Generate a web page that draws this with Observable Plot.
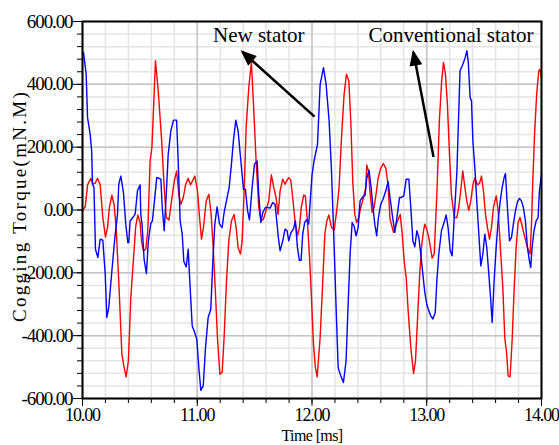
<!DOCTYPE html>
<html>
<head>
<meta charset="utf-8">
<script src="https://cdn.jsdelivr.net/npm/d3@7"></script>
<script src="https://cdn.jsdelivr.net/npm/@observablehq/plot@0.6"></script>
<style>
  html, body { margin: 0; padding: 0; background: #fff; }
</style>
</head>
<body>
<div id="chart"></div>
<script>
// New stator (blue) — time [ms] and cogging torque [mN.m]
const newT = [10.009,10.032,10.044,10.067,10.080,10.087,10.100,10.113,10.134,10.154,10.177,10.198,10.212,10.229,10.256,10.282,10.305,10.316,10.334,10.357,10.377,10.395,10.403,10.415,10.438,10.459,10.479,10.502,10.508,10.519,10.537,10.557,10.574,10.595,10.609,10.627,10.647,10.667,10.683,10.695,10.712,10.730,10.747,10.770,10.793,10.820,10.834,10.851,10.869,10.883,10.904,10.921,10.938,10.956,10.973,10.996,11.014,11.031,11.052,11.072,11.095,11.118,11.136,11.153,11.173,11.194,11.217,11.234,11.257,11.278,11.298,11.315,11.336,11.356,11.380,11.403,11.420,11.438,11.455,11.478,11.499,11.522,11.536,11.554,11.571,11.594,11.615,11.635,11.658,11.678,11.693,11.707,11.722,11.745,11.765,11.783,11.797,11.817,11.838,11.855,11.873,11.890,11.905,11.919,11.936,11.954,11.971,11.985,12.000,12.018,12.048,12.071,12.100,12.123,12.149,12.170,12.193,12.210,12.228,12.251,12.274,12.297,12.315,12.332,12.350,12.367,12.384,12.402,12.419,12.440,12.463,12.477,12.497,12.515,12.532,12.547,12.564,12.579,12.599,12.619,12.643,12.663,12.680,12.703,12.722,12.740,12.763,12.780,12.800,12.821,12.844,12.861,12.879,12.896,12.914,12.931,12.948,12.966,12.983,13.000,13.018,13.035,13.054,13.074,13.088,13.105,13.128,13.151,13.169,13.186,13.204,13.221,13.238,13.263,13.290,13.315,13.335,13.350,13.362,13.378,13.390,13.402,13.419,13.436,13.454,13.471,13.489,13.506,13.523,13.541,13.558,13.570,13.587,13.605,13.622,13.639,13.657,13.674,13.686,13.703,13.721,13.738,13.755,13.773,13.790,13.808,13.825,13.842,13.860,13.877,13.895,13.906,13.918,13.935,13.953,13.970,13.982,14.000];
const newV = [501,432,294,241,188,82,72,-125,-151,-93,-96,-204,-342,-310,-194,-88,-14,82,108,55,-45,-104,-104,-35,-24,-13,61,80,-13,-47,-157,-202,-98,-43,-35,29,103,101,98,8,-66,50,178,252,286,286,156,-35,-77,-164,-181,-125,-247,-369,-385,-411,-502,-574,-560,-438,-342,-316,-162,-45,10,-45,-56,-8,34,71,146,220,286,252,156,66,66,-1,-31,71,146,156,50,-40,-8,8,8,6,24,18,-35,-88,-130,-98,-61,-66,-98,-72,-61,-35,-119,-160,-160,-77,-40,-31,-45,30,110,156,210,400,453,400,284,124,-119,-310,-502,-528,-549,-480,-300,-140,-40,-51,-82,-56,29,41,47,101,127,71,8,-45,-82,-24,18,34,61,90,39,-24,-71,-24,40,40,45,98,98,8,-98,-117,-66,-88,-140,-204,-262,-300,-321,-337,-347,-326,-225,-140,-66,-40,-16,-56,-128,-146,-35,125,443,464,485,507,470,358,347,220,135,29,-77,-178,-140,-77,-119,-204,-289,-358,-225,-119,-35,24,71,103,116,8,-98,-88,-45,-3,26,37,29,8,-35,-119,-162,-183,-119,-66,-35,-24,61,114];

// Conventional stator (red)
const convT = [10.003,10.024,10.044,10.073,10.090,10.110,10.131,10.154,10.177,10.200,10.218,10.235,10.256,10.276,10.293,10.316,10.343,10.360,10.380,10.400,10.421,10.444,10.464,10.482,10.502,10.514,10.531,10.551,10.569,10.589,10.605,10.636,10.660,10.690,10.712,10.730,10.753,10.776,10.799,10.820,10.840,10.857,10.878,10.898,10.921,10.941,10.979,11.002,11.020,11.037,11.054,11.078,11.101,11.121,11.139,11.159,11.176,11.197,11.217,11.234,11.255,11.275,11.298,11.321,11.339,11.356,11.377,11.391,11.409,11.426,11.449,11.472,11.490,11.513,11.536,11.556,11.577,11.600,11.623,11.646,11.667,11.687,11.704,11.722,11.745,11.765,11.783,11.797,11.815,11.832,11.852,11.873,11.890,11.907,11.928,11.942,11.960,11.977,11.994,12.013,12.029,12.045,12.071,12.094,12.112,12.129,12.147,12.170,12.193,12.216,12.236,12.257,12.280,12.300,12.321,12.338,12.355,12.373,12.390,12.408,12.425,12.448,12.468,12.477,12.492,12.506,12.524,12.541,12.558,12.576,12.599,12.622,12.643,12.663,12.680,12.710,12.740,12.769,12.786,12.803,12.821,12.838,12.861,12.885,12.902,12.919,12.937,12.954,12.972,12.983,13.000,13.018,13.035,13.047,13.065,13.088,13.110,13.130,13.146,13.163,13.180,13.198,13.215,13.240,13.262,13.279,13.296,13.314,13.331,13.349,13.366,13.384,13.402,13.419,13.442,13.460,13.477,13.494,13.512,13.529,13.547,13.564,13.581,13.605,13.622,13.645,13.663,13.680,13.697,13.709,13.726,13.744,13.761,13.779,13.796,13.813,13.831,13.848,13.866,13.883,13.900,13.912,13.924,13.941,13.958,13.976,13.987,14.000];
const convV = [0,10,80,101,83,85,101,80,-24,-86,-56,10,47,16,-56,-225,-459,-496,-531,-480,-278,-157,-51,-16,-40,-98,-130,-125,-66,156,199,475,379,220,72,-24,-32,29,90,124,47,18,39,80,101,80,108,61,-24,-93,-56,29,50,-14,-119,-268,-406,-523,-517,-406,-225,-98,-35,-14,-56,-119,-140,-98,61,262,390,470,337,156,10,-35,-29,-1,29,112,71,39,-14,61,98,82,95,103,95,39,-35,-82,-56,10,47,45,-35,-140,-270,-427,-500,-531,-406,-225,-77,-35,-16,-56,-64,-1,71,231,369,432,411,284,92,-14,-40,-24,8,39,71,143,124,55,-8,8,50,101,133,148,133,80,-29,-71,-40,-14,-77,-162,-215,-321,-438,-520,-480,-353,-215,-119,-66,-45,-61,-88,-125,-153,-140,50,284,411,470,432,337,178,50,-24,-24,8,61,124,76,29,-1,29,80,101,80,85,108,61,-14,-56,-93,-56,8,45,-1,-140,-247,-406,-459,-528,-531,-416,-257,-119,-40,-24,-51,-77,-104,-125,-140,-56,90,252,369,443,448,420];

// Axis ticks and labels
const xTicks = [10, 11, 12, 13, 14];
const yTicks = [-600, -400, -200, 0, 200, 400, 600];
const xMinor = d3.range(0, 21).map(i => 10 + i * 0.2);
const yMinor = d3.range(-600, 601, 40);

// Annotations (label position and arrow from curve to label)
const labels = [
  {text: "New stator", t: 11.536, v: 536},
  {text: "Conventional stator", t: 13.211, v: 536}
];
const arrows = [
  {t1: 12.022, v1: 297, t2: 11.395, v2: 503},
  {t1: 13.059, v1: 169, t2: 12.884, v2: 502}
];
const yLabel = "Cogging Torque(mN.M)";
const xLabel = "Time [ms]";

const serif = "'Liberation Serif', 'Times New Roman', serif";
const newData = d3.zip(newT, newV);
const convData = d3.zip(convT, convV);

const chart = Plot.plot({
  width: 559,
  height: 445,
  marginLeft: 82,
  marginRight: 18,
  marginTop: 21,
  marginBottom: 47,
  style: {fontFamily: serif, fontSize: "17px", background: "#fff", color: "#000"},
  x: {domain: [10, 14], label: null},
  y: {domain: [-600, 600], label: null},
  marks: [
    Plot.ruleX(xMinor, {stroke: "#e4e4e4", strokeWidth: 1.5}),
    Plot.ruleY(yMinor, {stroke: "#e4e4e4", strokeWidth: 1.5}),
    Plot.ruleX(xTicks, {stroke: "#c4c4c4", strokeWidth: 1.5}),
    Plot.ruleY(yTicks, {stroke: "#c4c4c4", strokeWidth: 1.5}),
    Plot.line(convData, {x: d => d[0], y: d => d[1], stroke: "#ff0000", strokeWidth: 1.4}),
    Plot.line(newData, {x: d => d[0], y: d => d[1], stroke: "#0000ff", strokeWidth: 1.4}),
    Plot.frame({stroke: "#000", strokeWidth: 2}),
    Plot.axisY(yMinor, {tickSize: 5, tickFormat: () => "", label: null}),
    Plot.axisY(yTicks, {tickSize: 9, tickPadding: 1, tickFormat: d => d.toFixed(2), label: null, fontFamily: serif, fontSize: 19, fontVariant: "normal"}),
    Plot.axisX(xMinor, {tickSize: 5, tickFormat: () => "", label: null}),
    Plot.axisX(xTicks, {tickSize: 8, tickPadding: 2, tickFormat: d => d.toFixed(2), label: null, fontFamily: serif, fontSize: 18, fontVariant: "normal"}),
    Plot.link(arrows, {x1: "t1", y1: "v1", x2: "t2", y2: "v2", stroke: "#000", strokeWidth: 2.5, markerEnd: "arrow"}),
    Plot.text(labels, {x: "t", y: "v", text: "text", fontSize: 21, fontFamily: serif, lineAnchor: "bottom", textAnchor: "middle", fill: "#000"}),
    Plot.text([yLabel], {frameAnchor: "left", text: d => d, rotate: -90, dx: -57, dy: -4, textAnchor: "middle", lineAnchor: "bottom", fontSize: 19, fontFamily: serif, fill: "#000"}),
    Plot.text([xLabel], {frameAnchor: "bottom", text: d => d, dy: 42, textAnchor: "middle", lineAnchor: "bottom", fontSize: 16, fontFamily: serif, fill: "#000"})
  ]
});

// filled arrowheads, condensed tick labels and spaced y label
d3.select(chart).selectAll("marker").each(function () {
  const m = d3.select(this);
  m.attr("fill", "#000").attr("stroke", "none").attr("overflow", "visible");
  m.selectAll("path").attr("d", "M-8,-3.9L1.6,0L-8,3.9Z");
});
const yTickLabels = yTicks.map(d => d.toFixed(2));
const xTickLabels = xTicks.map(d => d.toFixed(2));
d3.select(chart).selectAll("text").each(function () {
  const s = this.textContent;
  const t = d3.select(this);
  if (s === yLabel) t.attr("letter-spacing", "2.3px");
  else if (s === xLabel) t.attr("letter-spacing", "-0.6px");
  else if (yTickLabels.includes(s) || xTickLabels.includes(s)) t.attr("letter-spacing", "-1.1px");
});

document.getElementById("chart").appendChild(chart);
</script>
</body>
</html>
